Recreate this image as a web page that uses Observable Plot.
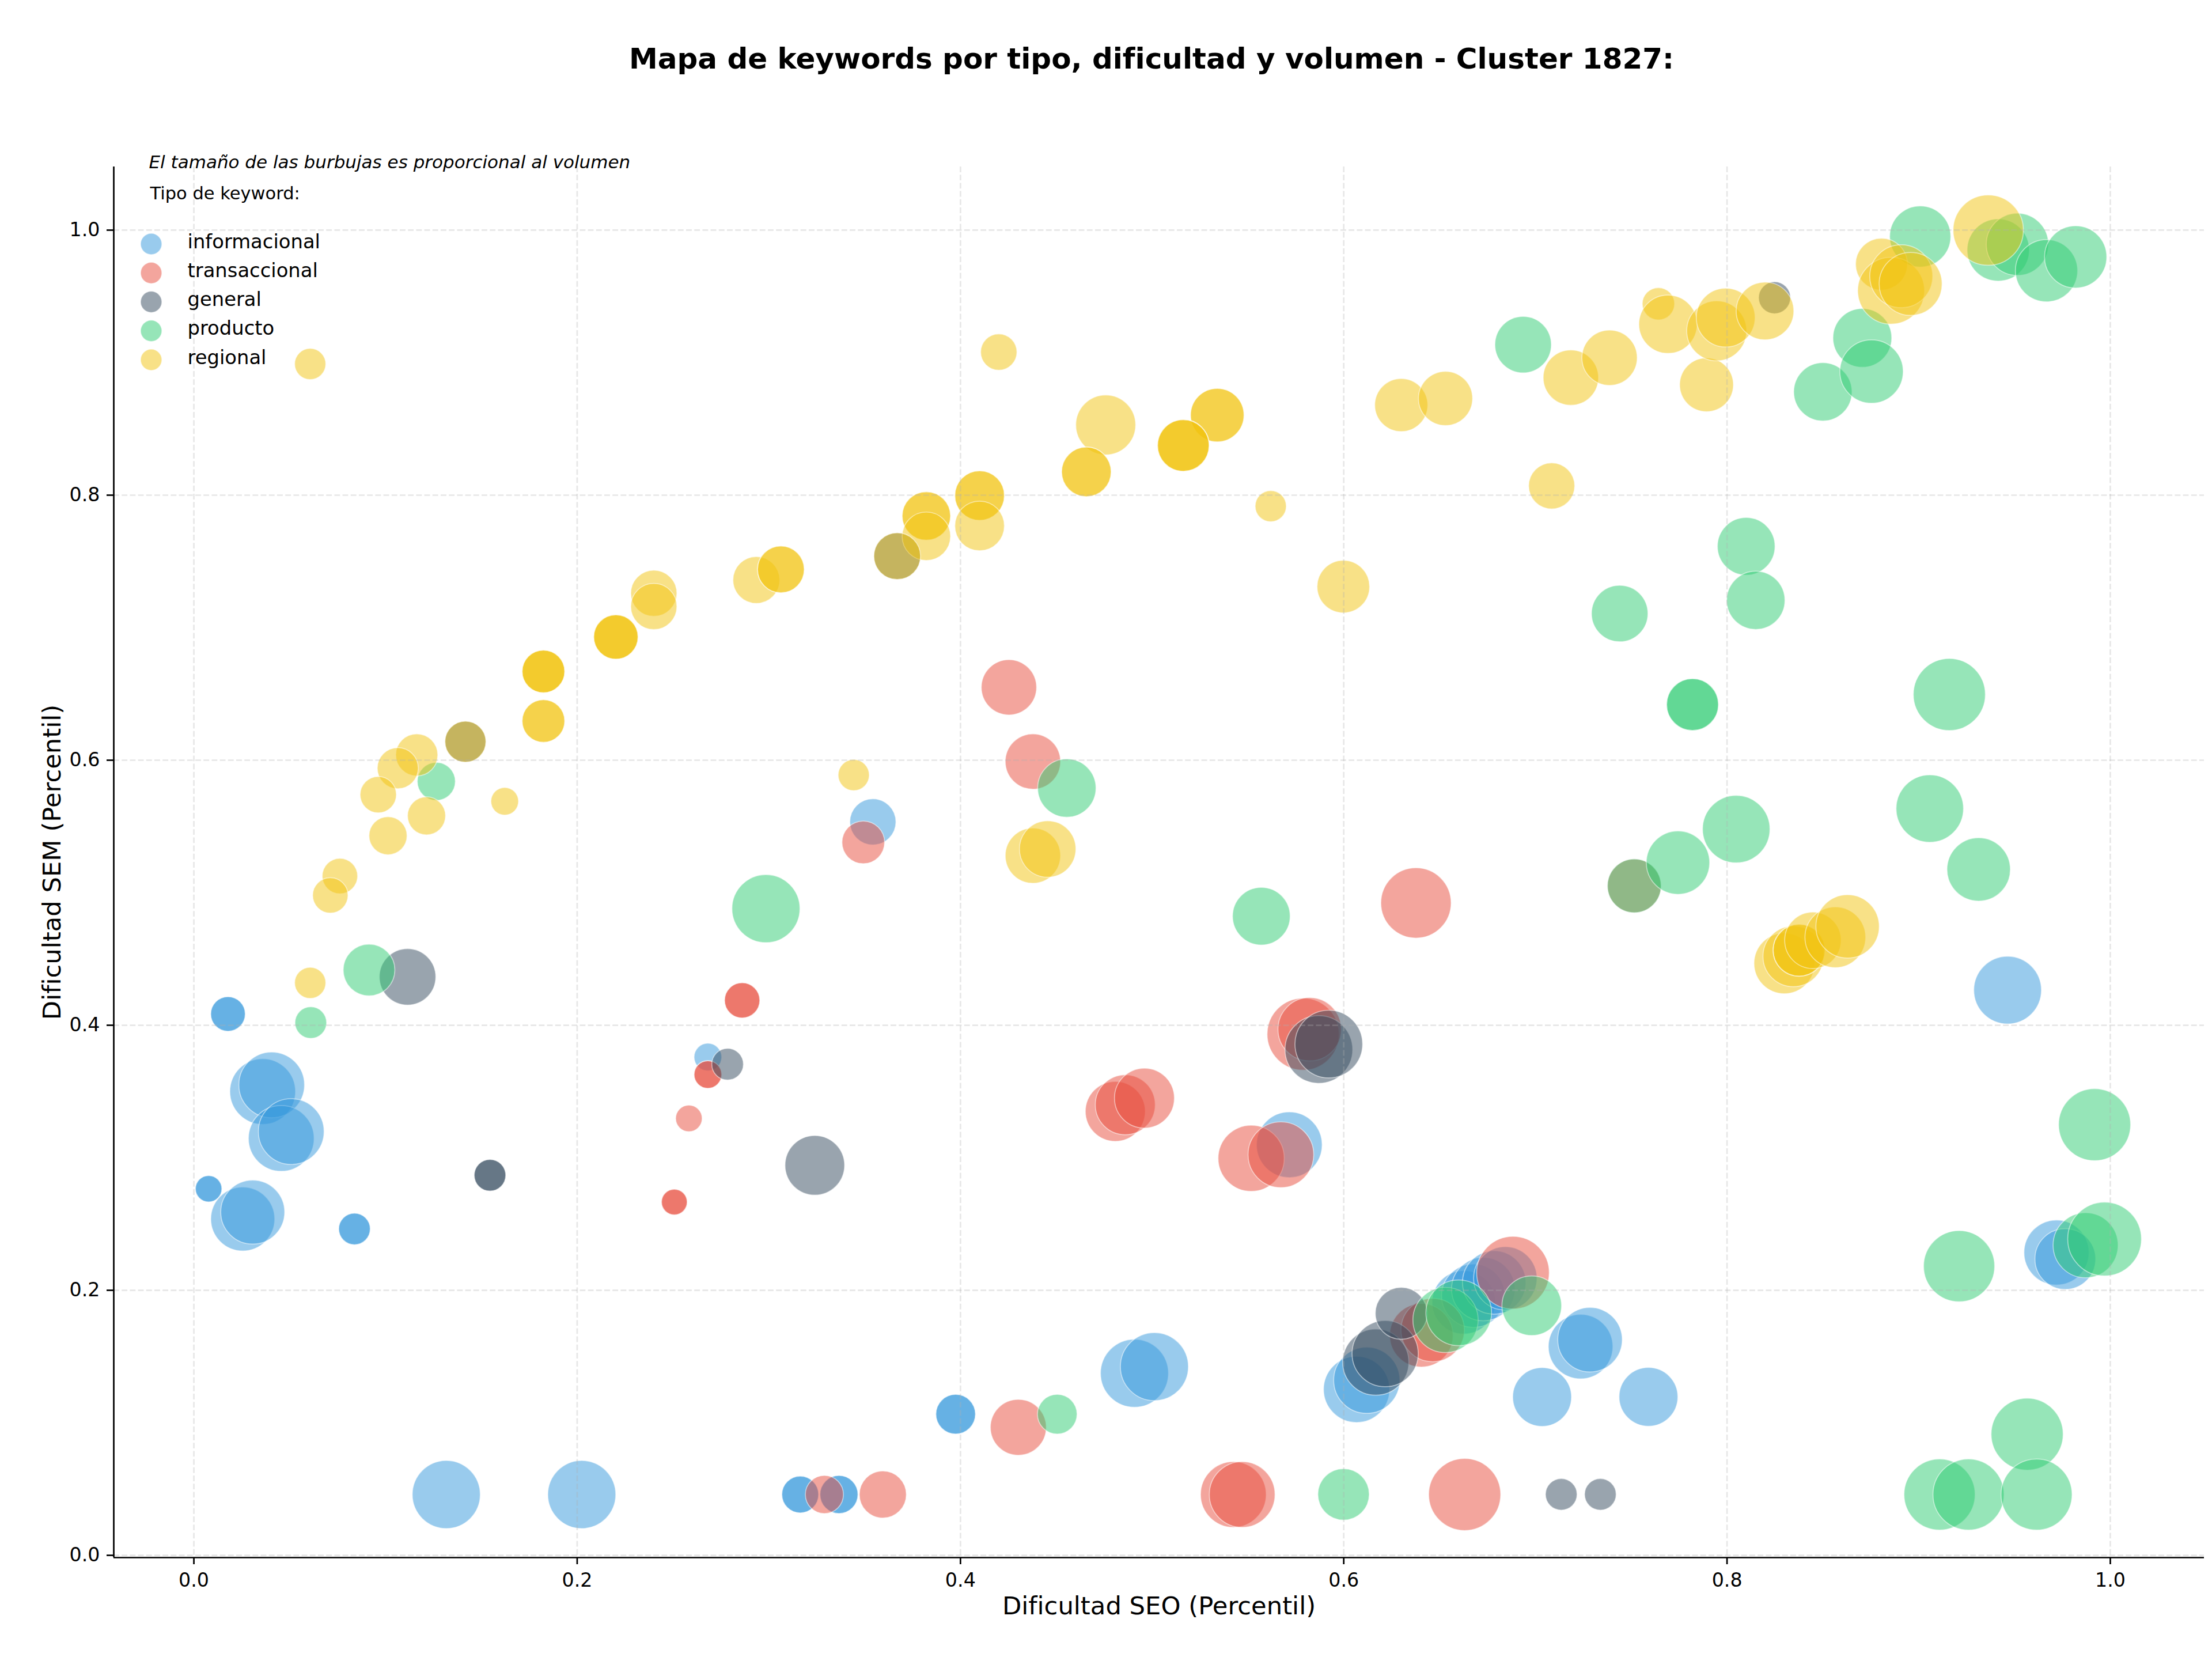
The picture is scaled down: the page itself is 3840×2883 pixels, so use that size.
<!DOCTYPE html>
<html lang="es">
<head>
<meta charset="utf-8">
<title>Mapa de keywords - Cluster 1827</title>
<script src="https://cdn.jsdelivr.net/npm/d3@7"></script>
<script src="https://cdn.jsdelivr.net/npm/@observablehq/plot@0.6"></script>
<style>
  html, body { margin: 0; padding: 0; background: #ffffff; }
  #chart svg { display: block; }
</style>
</head>
<body>
<div id="chart"></div>
<script>
// Tipos de keyword y su color
const tipos = ["informacional", "transaccional", "general", "producto", "regional"];
const colores = ["#3498db", "#e74c3c", "#34495e", "#2ecc71", "#f1c40f"];

// Cada fila: [dificultad SEO (percentil), dificultad SEM (percentil), volumen]
const informacional = [
  [0.0178, 0.4085, 213], [0.0178, 0.4085, 213],
  [0.0359, 0.350, 769], [0.0406, 0.355, 769],
  [0.0456, 0.3146, 769], [0.0508, 0.3198, 769],
  [0.0077, 0.2766, 125], [0.0077, 0.2766, 125],
  [0.0255, 0.2538, 729], [0.0307, 0.259, 729],
  [0.0838, 0.2463, 178], [0.0838, 0.2463, 178],
  [0.1317, 0.0459, 824], [0.2024, 0.0459, 824],
  [0.2682, 0.376, 136], [0.3543, 0.5535, 379],
  [0.3164, 0.0459, 242], [0.3164, 0.0459, 242],
  [0.3366, 0.0459, 258], [0.3366, 0.0459, 258],
  [0.3975, 0.1065, 280], [0.3975, 0.1065, 280],
  [0.4908, 0.1374, 824], [0.5012, 0.1424, 824],
  [0.5716, 0.3098, 769],
  [0.6067, 0.1252, 780], [0.6120, 0.1321, 780],
  [0.6626, 0.1909, 716], [0.6676, 0.1959, 716], [0.6728, 0.2009, 716],
  [0.6785, 0.2059, 716], [0.6843, 0.2090, 716],
  [0.7035, 0.1195, 616], [0.7590, 0.1196, 616],
  [0.7236, 0.1575, 742], [0.7285, 0.1627, 742],
  [0.9464, 0.4265, 816], [0.9719, 0.2285, 753], [0.9765, 0.2236, 657]
];

const transaccional = [
  [0.2861, 0.4188, 222], [0.2861, 0.4188, 222],
  [0.2682, 0.3628, 136], [0.2682, 0.3628, 136],
  [0.2583, 0.3297, 125],
  [0.2507, 0.2666, 118], [0.2507, 0.2666, 118],
  [0.3493, 0.538, 324], [0.4253, 0.655, 545], [0.4378, 0.599, 545],
  [0.6377, 0.4923, 881],
  [0.4808, 0.335, 640], [0.4860, 0.340, 640], [0.4960, 0.345, 640],
  [0.5788, 0.3933, 925], [0.5822, 0.397, 716],
  [0.5517, 0.2996, 780], [0.5672, 0.3023, 769],
  [0.3290, 0.0459, 258], [0.3595, 0.0459, 394], [0.4302, 0.0966, 557],
  [0.5424, 0.0459, 769], [0.5470, 0.0459, 769], [0.6631, 0.0459, 925],
  [0.6405, 0.166, 716], [0.6464, 0.170, 716], [0.6883, 0.2133, 939],
  [0.7516, 0.5052, 516]
];

const general = [
  [0.1115, 0.4365, 568],
  [0.1545, 0.2868, 178], [0.1545, 0.2868, 178],
  [0.2785, 0.3706, 178], [0.3240, 0.2943, 633],
  [0.1417, 0.614, 300], [0.3670, 0.754, 390],
  [0.5870, 0.3817, 816], [0.5922, 0.3858, 816],
  [0.6167, 0.1458, 780], [0.6216, 0.1522, 780], [0.6300, 0.1826, 479],
  [0.7135, 0.0460, 178], [0.7339, 0.0460, 178],
  [0.8248, 0.949, 182]
];

const producto = [
  [0.0610, 0.402, 178], [0.0914, 0.4417, 475], [0.1265, 0.584, 258],
  [0.2985, 0.488, 824], [0.4555, 0.579, 606], [0.4505, 0.1065, 280],
  [0.5570, 0.4823, 592], [0.5999, 0.0460, 471],
  [0.6531, 0.1776, 758], [0.6600, 0.1830, 769], [0.6981, 0.1884, 633],
  [0.6936, 0.9136, 568], [0.7440, 0.7107, 568],
  [0.7820, 0.642, 479], [0.7820, 0.642, 479],
  [0.7516, 0.5052, 516], [0.7744, 0.5227, 716], [0.8048, 0.548, 810],
  [0.8100, 0.7614, 592], [0.8150, 0.7207, 606],
  [0.8500, 0.878, 606], [0.8706, 0.9187, 616], [0.8754, 0.8933, 716],
  [0.9008, 0.9952, 665], [0.9415, 0.985, 690], [0.9515, 0.9893, 690],
  [0.9667, 0.9694, 690], [0.9819, 0.9798, 690],
  [0.9160, 0.6496, 925], [0.9058, 0.5635, 810], [0.9313, 0.5176, 716],
  [0.9918, 0.325, 925], [0.9211, 0.2182, 901],
  [0.9871, 0.234, 753], [0.9970, 0.2387, 969],
  [0.9566, 0.0914, 925],
  [0.9109, 0.0459, 901], [0.9260, 0.0459, 901], [0.9615, 0.0459, 901]
];

const regional = [
  [0.0607, 0.899, 173],
  [0.2400, 0.726, 379], [0.2400, 0.716, 379],
  [0.2935, 0.736, 390], [0.3063, 0.744, 390], [0.3063, 0.744, 390],
  [0.2202, 0.693, 351], [0.2202, 0.693, 351], [0.2202, 0.693, 351],
  [0.1824, 0.667, 324], [0.1824, 0.667, 324], [0.1824, 0.667, 324],
  [0.1824, 0.6296, 324], [0.1824, 0.6296, 324],
  [0.1417, 0.614, 300], [0.1163, 0.604, 315], [0.1064, 0.594, 300],
  [0.0962, 0.574, 235], [0.1622, 0.569, 136], [0.1214, 0.558, 258],
  [0.1013, 0.543, 258], [0.0762, 0.5126, 223], [0.0712, 0.498, 223],
  [0.0607, 0.432, 173],
  [0.4200, 0.908, 235], [0.4758, 0.853, 640],
  [0.5340, 0.8604, 510], [0.5340, 0.8604, 510],
  [0.5163, 0.8375, 475], [0.5163, 0.8375, 475], [0.5163, 0.8375, 475],
  [0.4657, 0.8176, 438], [0.4657, 0.8176, 438],
  [0.6300, 0.868, 501], [0.6531, 0.873, 523],
  [0.5619, 0.7917, 173], [0.5998, 0.731, 492],
  [0.4100, 0.7997, 438], [0.4100, 0.7997, 438], [0.4100, 0.7768, 438],
  [0.3822, 0.7843, 418], [0.3822, 0.7843, 418], [0.3822, 0.769, 418],
  [0.3670, 0.754, 390],
  [0.3443, 0.5888, 173], [0.4378, 0.528, 545], [0.4455, 0.533, 568],
  [0.7185, 0.8887, 545], [0.7387, 0.9037, 545], [0.7642, 0.9444, 186],
  [0.7692, 0.929, 606], [0.7893, 0.8833, 516], [0.7946, 0.924, 640],
  [0.7993, 0.934, 616], [0.8198, 0.939, 592], [0.7085, 0.807, 379],
  [0.8806, 0.9743, 479], [0.8856, 0.9543, 796], [0.8909, 0.9652, 706],
  [0.8958, 0.9594, 706], [0.9363, 1.0, 881],
  [0.8299, 0.4467, 657], [0.8346, 0.452, 657],
  [0.8376, 0.4566, 479], [0.8376, 0.4566, 479],
  [0.8448, 0.4641, 568], [0.8565, 0.4664, 657], [0.8629, 0.4746, 716]
];

// Ejes
const xTicks = [0, 0.2, 0.4, 0.6, 0.8, 1.0];
const yTicks = [0, 0.2, 0.4, 0.6, 0.8, 1.0];
const xDominio = [-0.0418, 1.049];
const yDominio = [-0.0017, 1.0478];

const titulo = "Mapa de keywords por tipo, dificultad y volumen - Cluster 1827:";
const nota = "El tamaño de las burbujas es proporcional al volumen";
const tituloLeyenda = "Tipo de keyword:";
const etiquetaX = "Dificultad SEO (Percentil)";
const etiquetaY = "Dificultad SEM (Percentil)";

// Tabla larga, en el orden de dibujo (un grupo por tipo)
const porTipo = {informacional, transaccional, general, producto, regional};
const filas = tipos.flatMap(tipo =>
  porTipo[tipo].map(([seo, sem, volumen]) => ({tipo, seo, sem, volumen}))
);

const rejilla = {stroke: "#b0b0b0", strokeOpacity: 0.3, strokeWidth: 2.7, strokeDasharray: "9.9,4.3"};

const leyenda = tipos.flatMap((tipo, i) => [
  Plot.dot([tipo], {
    frameAnchor: "top-left", dx: 65, dy: 134 + i * 50.25, r: 18.5,
    fill: colores[i], fillOpacity: 0.5, stroke: "white", strokeOpacity: 0.5, strokeWidth: 1.7
  }),
  Plot.text([tipo], {
    frameAnchor: "top-left", dx: 128, dy: 141 + i * 50.25, text: d => d,
    textAnchor: "start", lineAnchor: "bottom", fontSize: 33.8, fill: "black"
  })
]);

const chart = Plot.plot({
  width: 3840,
  height: 2883,
  marginLeft: 197,
  marginRight: 14,
  marginTop: 289,
  marginBottom: 180,
  style: {fontFamily: "'DejaVu Sans', sans-serif", fontSize: "33px", background: "white", color: "black"},
  x: {domain: xDominio, label: null},
  y: {domain: yDominio, label: null},
  r: {type: "sqrt", domain: [0, 1000], range: [0, 65]},
  color: {domain: tipos, range: colores},
  marks: [
    Plot.dot(filas, {
      x: "seo", y: "sem", r: "volumen", fill: "tipo", fillOpacity: 0.5,
      stroke: "white", strokeOpacity: 0.5, strokeWidth: 1.7, sort: null
    }),
    Plot.gridX(xTicks, rejilla),
    Plot.gridY(yTicks, rejilla),
    Plot.axisX(xTicks, {tickFormat: ".1f", tickSize: 12, tickPadding: 15, strokeWidth: 2.7, fontSize: 33.3, label: null}),
    Plot.axisY(yTicks, {tickFormat: ".1f", tickSize: 12, tickPadding: 12, strokeWidth: 2.7, fontSize: 33.3, label: null}),
    Plot.ruleX([xDominio[0]], {stroke: "black", strokeWidth: 2.7}),
    Plot.ruleY([yDominio[0]], {stroke: "black", strokeWidth: 2.7}),
    Plot.text([etiquetaX], {frameAnchor: "bottom", dy: 98, text: d => d, fontSize: 43.3, textAnchor: "middle", lineAnchor: "bottom", fill: "black"}),
    Plot.text([etiquetaY], {frameAnchor: "left", dx: -93, rotate: -90, text: d => d, fontSize: 43.3, textAnchor: "middle", lineAnchor: "bottom", fill: "black"}),
    Plot.text([titulo], {frameAnchor: "top", dx: -13, dy: -171, text: d => d, fontSize: 50, fontWeight: "bold", textAnchor: "middle", lineAnchor: "bottom", fill: "black"}),
    Plot.text([nota], {frameAnchor: "top-left", dx: 61, dy: 2, text: d => d, fontSize: 31, fontStyle: "italic", textAnchor: "start", lineAnchor: "bottom", fill: "black"}),
    Plot.text([tituloLeyenda], {frameAnchor: "top-left", dx: 63, dy: 56, text: d => d, fontSize: 30.5, textAnchor: "start", lineAnchor: "bottom", fill: "black"}),
    ...leyenda
  ]
});

document.getElementById("chart").append(chart);
</script>
</body>
</html>
